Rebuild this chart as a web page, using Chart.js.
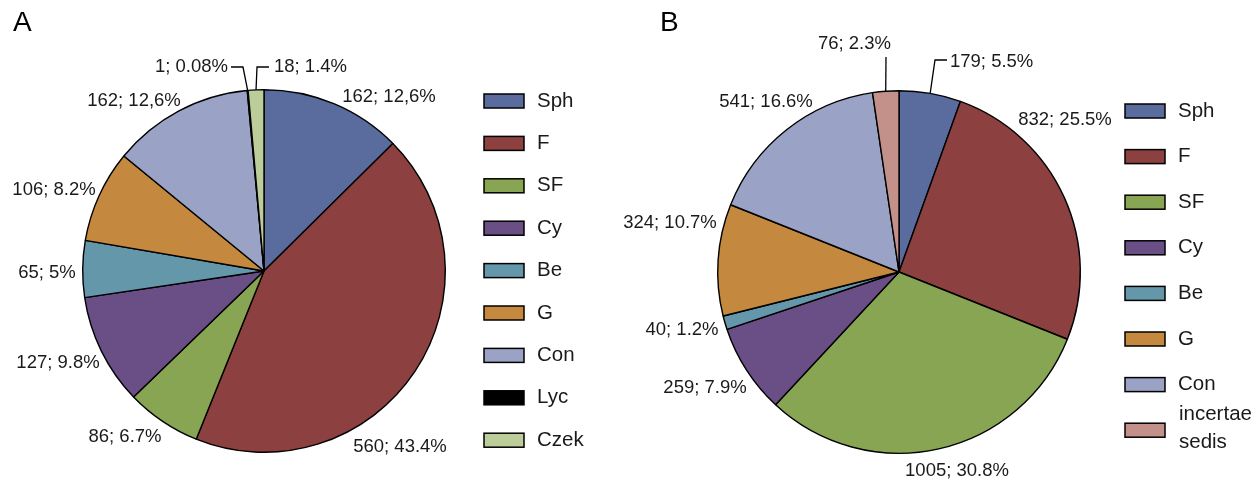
<!DOCTYPE html>
<html>
<head>
<meta charset="utf-8">
<script src="https://cdn.jsdelivr.net/npm/chart.js@4/dist/chart.umd.min.js"></script>
<style>
  html, body { margin: 0; padding: 0; background: #fff; }
  #wrap { position: relative; width: 1256px; height: 481px; }
  .cv { position: absolute; top: 0; height: 481px; }
</style>
</head>
<body>
<div id="wrap">
  <div class="cv" style="left:0;width:600px"><canvas id="cA"></canvas></div>
  <div class="cv" style="left:600px;width:656px"><canvas id="cB"></canvas></div>
</div>
<script>
// ---- data ----
const categoriesA = ["Sph", "F", "SF", "Cy", "Be", "G", "Con", "Lyc", "Czek"];
const valuesA = [162, 560, 86, 127, 65, 106, 162, 1, 18];
const labelsA = ["162; 12,6%", "560; 43.4%", "86; 6.7%", "127; 9.8%", "65; 5%", "106; 8.2%", "162; 12,6%", "1; 0.08%", "18; 1.4%"];

const categoriesB = ["Sph", "F", "SF", "Cy", "Be", "G", "Con", "incertae sedis"];
const valuesB = [179, 832, 1005, 259, 40, 324, 541, 76];
const labelsB = ["179; 5.5%", "832; 25.5%", "1005; 30.8%", "259; 7.9%", "40; 1.2%", "324; 10.7%", "541; 16.6%", "76; 2.3%"];

// ---- styles ----
const colorMap = {
  "Sph": "#5a6b9e", "F": "#8c4040", "SF": "#87a553", "Cy": "#6a4f86",
  "Be": "#6597ab", "G": "#c4883e", "Con": "#9aa3c6", "Lyc": "#000000",
  "Czek": "#bccd99", "incertae sedis": "#c4918a"
};
const FONT = "'Liberation Sans', Arial, sans-serif";

// label placement (offsets from pie centre, px) and leader lines
const labelPosA = [[125,-174],[136,176],[-139,166],[-206,92],[-217,2],[-210,-81],[-130,-170],[-36,-204,'right'],[10,-204,'left']];
const leadersA = { 7: [[-33,-204],[-21,-204]], 8: [[5,-204],[-7,-204]] };
const labelPosB = [[51,-210,'left'],[166,-152],[58,199],[-194,116],[-217,58],[-229,-49],[-133,-170],[-8,-228,'right']];
const leadersB = { 0: [[48,-212],[36,-212]], 7: [[-13,-215]] };

function makePlugin(title, labels, labelPos, leaders, cats, legend) {
  return {
    id: 'custom' + title,
    afterDraw(chart) {
      const ctx = chart.ctx;
      const meta = chart.getDatasetMeta(0);
      const arc0 = meta.data[0];
      const cx = arc0.x, cy = arc0.y;
      ctx.save();
      // title
      ctx.fillStyle = '#000';
      ctx.font = '28px ' + FONT;
      ctx.textBaseline = 'middle';
      ctx.textAlign = 'left';
      ctx.fillText(title, legend.titleX, 23);
      // labels
      ctx.font = '18.5px ' + FONT;
      ctx.fillStyle = '#1a1a1a';
      labels.forEach((t, i) => {
        const p = labelPos[i];
        ctx.textAlign = p[2] || 'center';
        ctx.fillText(t, cx + p[0], cy + p[1]);
      });
      // leaders
      ctx.strokeStyle = '#000';
      ctx.lineWidth = 1.3;
      Object.keys(leaders).forEach(k => {
        const a = meta.data[k];
        const mid = (a.startAngle + a.endAngle) / 2;
        const pts = leaders[k];
        ctx.beginPath();
        ctx.moveTo(cx + pts[0][0], cy + pts[0][1]);
        for (let j = 1; j < pts.length; j++) ctx.lineTo(cx + pts[j][0], cy + pts[j][1]);
        ctx.lineTo(cx + Math.cos(mid) * a.outerRadius, cy + Math.sin(mid) * a.outerRadius);
        ctx.stroke();
      });
      // legend
      ctx.font = '20.5px ' + FONT;
      ctx.textAlign = 'left';
      cats.forEach((c, i) => {
        const y = legend.y0 + i * legend.dy;
        ctx.fillStyle = colorMap[c];
        ctx.fillRect(legend.x, y - 7, 40, 14);
        ctx.lineWidth = 1.5;
        ctx.strokeStyle = '#000';
        ctx.strokeRect(legend.x, y - 7, 40, 14);
        ctx.fillStyle = '#1a1a1a';
        const parts = c.split(' ');
        if (parts.length > 1) {
          ctx.fillText(parts[0], legend.x + 54, y - 16);
          ctx.fillText(parts[1], legend.x + 54, y + 12);
        } else {
          ctx.fillText(c, legend.x + 53, y);
        }
      });
      ctx.restore();
    }
  };
}

function makeChart(id, cats, vals, pad, plugin) {
  return new Chart(document.getElementById(id), {
    type: 'pie',
    data: {
      labels: cats,
      datasets: [{
        data: vals,
        backgroundColor: cats.map(c => colorMap[c]),
        borderColor: '#000',
        borderWidth: 1.4,
        offset: 0,
        hoverOffset: 0
      }]
    },
    options: {
      responsive: true,
      maintainAspectRatio: false,
      animation: false,
      events: [],
      rotation: 0,
      layout: { padding: pad },
      plugins: { legend: { display: false }, tooltip: { enabled: false } }
    },
    plugins: [plugin]
  });
}

makeChart('cA', categoriesA, valuesA, { left: 82, right: 154, top: 89, bottom: 28 },
  makePlugin('A', labelsA, labelPosA, leadersA, categoriesA, { x: 484, y0: 101, dy: 42.4, titleX: 13 }));
makeChart('cB', categoriesB, valuesB, { left: 117, right: 175, top: 90, bottom: 27 },
  makePlugin('B', labelsB, labelPosB, leadersB, categoriesB, { x: 525, y0: 111, dy: 45.6, titleX: 60 }));
</script>
</body>
</html>
